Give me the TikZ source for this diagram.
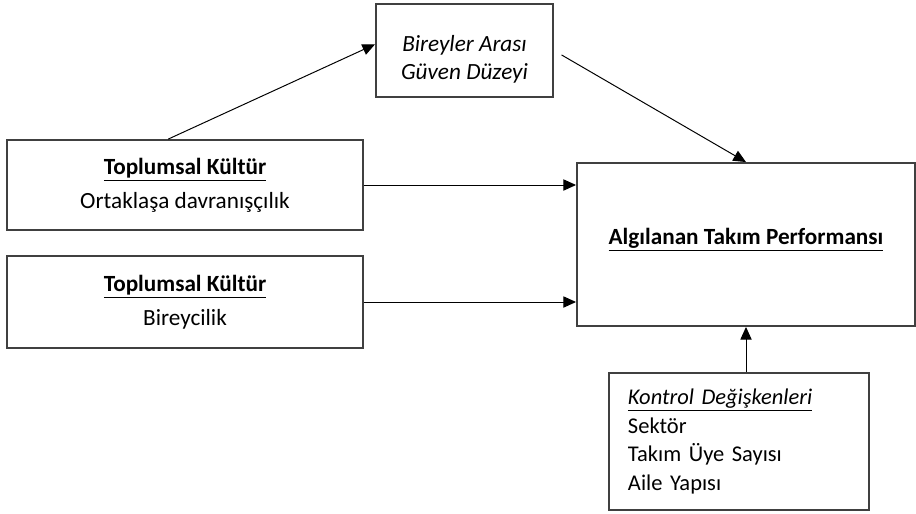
\documentclass[tikz,border=0pt]{standalone}
\usepackage{fontspec}
\setmainfont{Carlito}
\usetikzlibrary{arrows.meta}

\begin{document}
\begin{tikzpicture}[x=0.025cm, y=-0.025cm,
	box/.style={draw=black!75, line width=1.3pt, inner sep=0pt, align=center,
		font=\fontsize{16.5}{24}\selectfont},
	conn/.style={-{Triangle[width=8pt, length=9pt]}, line width=0.7pt}]
	\useasboundingbox (0,0) rectangle (916,514);

	\node[box, minimum width=4.425cm, minimum height=2.325cm] (guven) at (464.5,50.5)
		{\mbox{}\\[0pt] \itshape Bireyler Arası\\[-4pt] \itshape Güven Düzeyi};
	\node[box, minimum width=8.9cm, minimum height=2.25cm] (ortak) at (185,185)
		{\textbf{\underline{Toplumsal Kültür}}\\ Ortaklaşa davranışçılık};
	\node[box, minimum width=8.9cm, minimum height=2.3cm] (birey) at (185,302)
		{\textbf{\underline{Toplumsal Kültür}}\\ Bireycilik};
	\node[box, minimum width=8.45cm, minimum height=4.075cm] (perf) at (746,244.5)
		{\textbf{\underline{Algılanan Takım Performansı}}\\[-12pt]\mbox{}};
	\node[box, minimum width=6.5cm, minimum height=3.425cm, align=left,
		text width=5.55cm, inner xsep=0.475cm, font=\fontsize{16}{20.6}\selectfont]
		(kontrol) at (739,441.5)
		{\underline{\itshape Kontrol Değişkenleri}\\ Sektör\\ Takım Üye Sayısı\\ Aile Yapısı};

	% yollar
	\draw[conn] (ortak.110) -- (guven.176);
	\draw[conn, shorten <=0.22cm] (guven.east) -- (perf.north);
	\draw[conn] (ortak.east) -- (ortak.east -| perf.west);
	\draw[conn] (birey.east) -- (birey.east -| perf.west);
	\draw[conn] (kontrol.north -| perf.south) -- (perf.south);
\end{tikzpicture}
\end{document}
